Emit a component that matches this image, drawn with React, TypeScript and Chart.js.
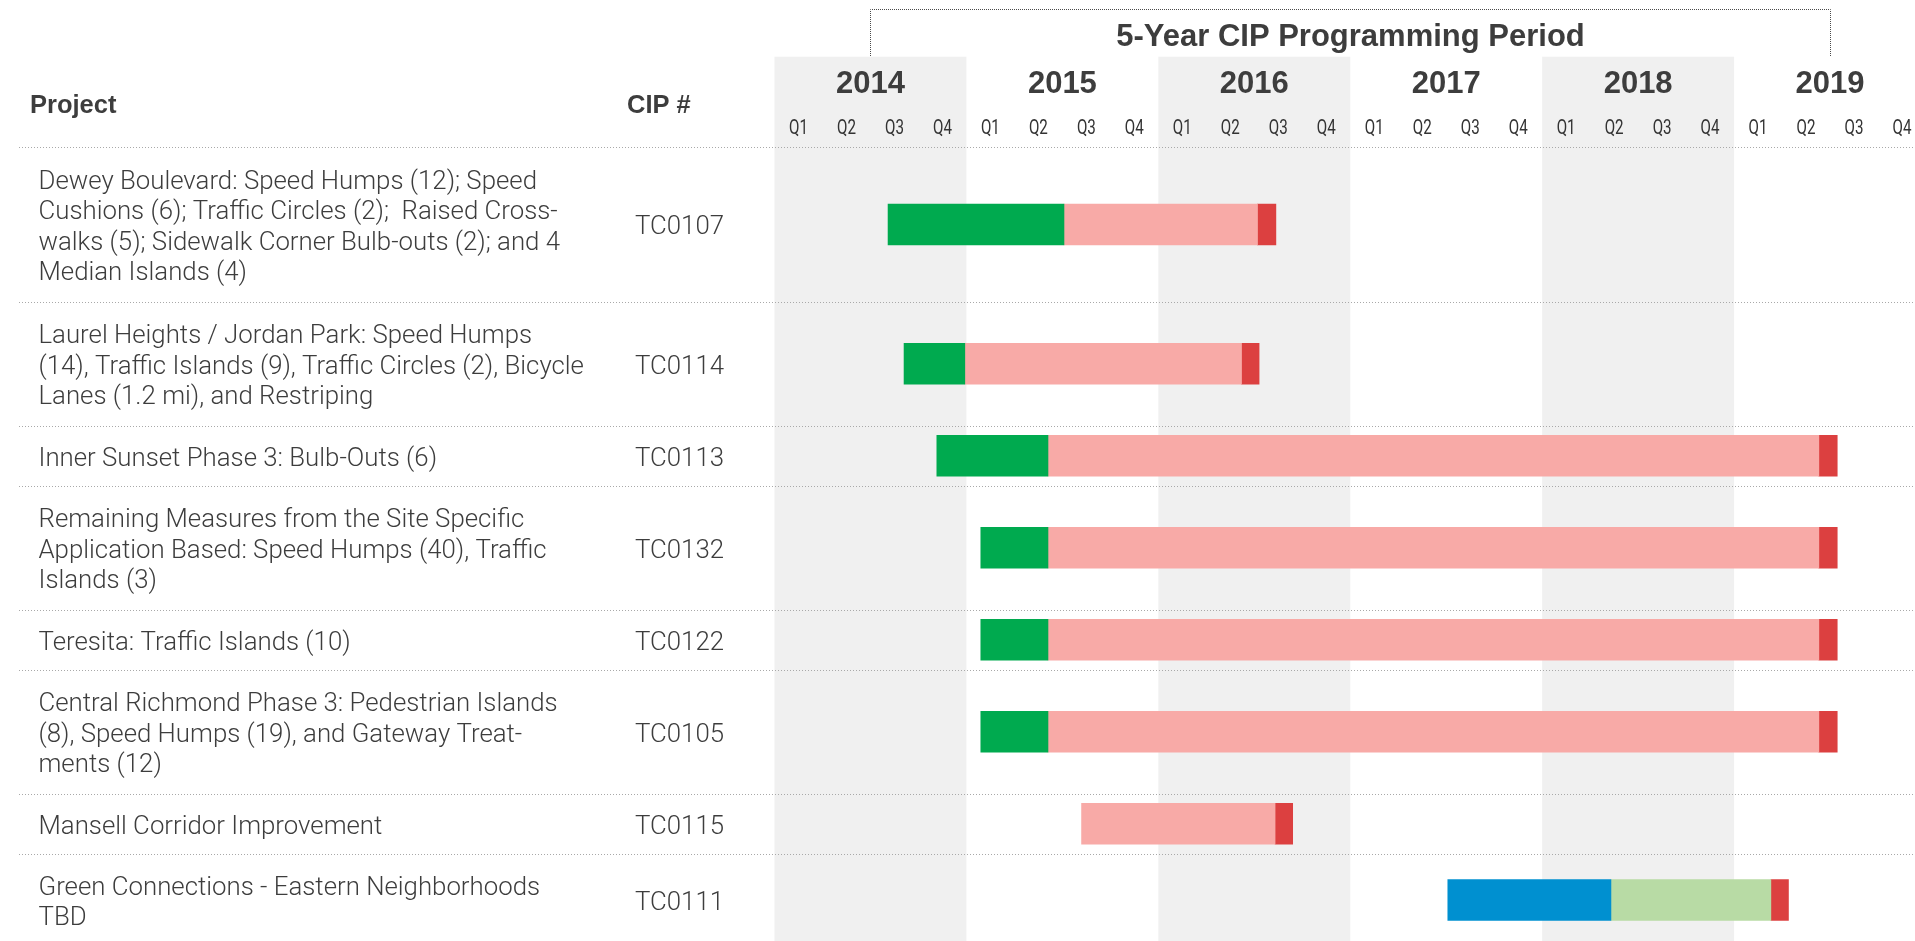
import React, { useEffect, useRef } from 'react';
import { Chart, registerables } from 'chart.js';

Chart.register(...registerables);

// ---------- data ----------
const years = ['2014', '2015', '2016', '2017', '2018', '2019'];
const quarters = ['Q1', 'Q2', 'Q3', 'Q4'];
const periodTitle = '5-Year CIP Programming Period';
// months counted from January 2014
const programmingPeriod = [6, 66];

const headerProject = 'Project';
const headerCip = 'CIP #';

const projects: string[][] = [
  [
    'Dewey Boulevard: Speed Humps (12); Speed',
    'Cushions (6); Traffic Circles (2);  Raised Cross-',
    'walks (5); Sidewalk Corner Bulb-outs (2); and 4',
    'Median Islands (4)',
  ],
  [
    'Laurel Heights / Jordan Park: Speed Humps',
    '(14), Traffic Islands (9), Traffic Circles (2), Bicycle',
    'Lanes (1.2 mi), and Restriping',
  ],
  ['Inner Sunset Phase 3: Bulb-Outs (6)'],
  [
    'Remaining Measures from the Site Specific',
    'Application Based: Speed Humps (40), Traffic',
    'Islands (3)',
  ],
  ['Teresita: Traffic Islands (10)'],
  [
    'Central Richmond Phase 3: Pedestrian Islands',
    '(8), Speed Humps (19), and Gateway Treat-',
    'ments (12)',
  ],
  ['Mansell Corridor Improvement'],
  ['Green Connections - Eastern Neighborhoods', 'TBD'],
];

const cipNumbers = ['TC0107', 'TC0114', 'TC0113', 'TC0132', 'TC0122', 'TC0105', 'TC0115', 'TC0111'];

type Span = [number, number] | null;
// phase spans in months from January 2014
const greenPhase: Span[] = [[7.1, 18.1], [8.1, 11.9], [10.15, 17.1], [12.9, 17.1], [12.9, 17.1], [12.9, 17.1], null, null];
const pinkPhase: Span[] = [[18.1, 30.2], [11.9, 29.2], [17.1, 65.3], [17.1, 65.3], [17.1, 65.3], [17.1, 65.3], [19.2, 31.3], null];
const redPhase: Span[] = [[30.2, 31.35], [29.2, 30.3], [65.3, 66.45], [65.3, 66.45], [65.3, 66.45], [65.3, 66.45], [31.3, 32.4], [62.3, 63.4]];
const bluePhase: Span[] = [null, null, null, null, null, null, null, [42.1, 52.3]];
const lightGreenPhase: Span[] = [null, null, null, null, null, null, null, [52.3, 62.3]];

// ---------- layout / style ----------
const CANVAS_W = 1926;
const CANVAS_H = 946;
const PLOT_LEFT = 774.5;
const PLOT_TOP = 147;
const ROW_PAD = 0.92;
const SHADE_TOP = 56.7;
const TEXT_COLOR = '#3d3d3d';
const BODY_FONT = '300 25.8px Roboto, "Liberation Sans", sans-serif';
const BOLD_FONT = (px: number) => `bold ${px}px "Liberation Sans", Arial, sans-serif`;
const LINE_PITCH = 30.5;

export default function App() {
  const ref = useRef<HTMLCanvasElement>(null);

  useEffect(() => {
    const canvas = ref.current;
    if (!canvas) return;

    const spans = projects.map((p) => p.length + ROW_PAD);
    const bounds: number[] = [0];
    spans.forEach((s) => bounds.push(bounds[bounds.length - 1] + s));
    const centers = spans.map((s, i) => bounds[i] + s / 2);
    const total = bounds[bounds.length - 1];

    const mk = (label: string, arr: Span[], color: string) => ({
      label,
      backgroundColor: color,
      borderWidth: 0,
      grouped: false,
      barThickness: 41,
      data: arr
        .map((r, i) => (r ? { x: r, y: centers[i] } : null))
        .filter((d) => d !== null),
    });

    const decor = {
      id: 'decor',
      beforeDraw(chart: any) {
        const ctx = chart.ctx as CanvasRenderingContext2D;
        const xs = chart.scales.x;
        const ys = chart.scales.y;
        const W = chart.width;
        const H = chart.height;
        ctx.save();
        ctx.fillStyle = '#ffffff';
        ctx.fillRect(0, 0, W, H);
        // shaded years
        ctx.fillStyle = '#f0f0f0';
        years.forEach((_, i) => {
          if (i % 2 === 0) {
            const x0 = xs.getPixelForValue(i * 12);
            const x1 = xs.getPixelForValue((i + 1) * 12);
            ctx.fillRect(x0, SHADE_TOP, x1 - x0, H - SHADE_TOP);
          }
        });
        // row separators
        ctx.strokeStyle = '#a9a9a9';
        ctx.lineWidth = 1;
        ctx.setLineDash([1, 2]);
        bounds.slice(0, -1).forEach((b) => {
          const y = Math.round(ys.getPixelForValue(b)) + 0.5;
          ctx.beginPath();
          ctx.moveTo(19, y);
          ctx.lineTo(W, y);
          ctx.stroke();
        });
        // programming period bracket
        const px0 = Math.round(xs.getPixelForValue(programmingPeriod[0])) + 0.5;
        const px1 = Math.round(xs.getPixelForValue(programmingPeriod[1])) + 0.5;
        ctx.strokeStyle = '#4a4a4a';
        ctx.setLineDash([1, 1]);
        ctx.beginPath();
        ctx.moveTo(px0, 56);
        ctx.lineTo(px0, 9.5);
        ctx.lineTo(px1, 9.5);
        ctx.lineTo(px1, 56);
        ctx.stroke();
        ctx.setLineDash([]);

        // header texts
        ctx.fillStyle = TEXT_COLOR;
        ctx.textBaseline = 'alphabetic';
        ctx.textAlign = 'center';
        ctx.font = BOLD_FONT(31);
        ctx.fillText(periodTitle, (px0 + px1) / 2, 46);
        years.forEach((yr, i) => {
          ctx.font = BOLD_FONT(31);
          ctx.fillText(yr, xs.getPixelForValue(i * 12 + 6), 92.7);
          quarters.forEach((q, j) => {
            const cx = xs.getPixelForValue(i * 12 + j * 3 + 1.5);
            ctx.save();
            ctx.translate(cx, 134);
            ctx.scale(0.74, 1);
            ctx.font = '400 20.5px Roboto, "Liberation Sans", sans-serif';
            ctx.fillStyle = '#333333';
            ctx.fillText(q, 0, 0);
            ctx.restore();
          });
        });
        ctx.textAlign = 'left';
        ctx.font = BOLD_FONT(25.5);
        ctx.fillText(headerProject, 30, 113.3);
        ctx.fillText(headerCip, 627, 113.3);

        // project labels
        ctx.font = BODY_FONT;
        projects.forEach((lines, i) => {
          const cy = ys.getPixelForValue(centers[i]);
          const n = lines.length;
          lines.forEach((ln, k) => {
            const y = cy + (k - (n - 1) / 2) * LINE_PITCH + 9.8;
            ctx.fillText(ln, 38.5, y);
          });
          ctx.fillText(cipNumbers[i], 635, cy + 9.8);
        });
        ctx.restore();
      },
    };

    const chart = new Chart(canvas, {
      type: 'bar',
      data: {
        datasets: [
          mk('Planning', bluePhase, '#0090d0'),
          mk('Design', lightGreenPhase, '#b8dba5'),
          mk('Design / Environmental', greenPhase, '#00aa4f'),
          mk('Construction', pinkPhase, '#f8aaa7'),
          mk('Close-out', redPhase, '#dc4040'),
        ] as any,
      },
      options: {
        indexAxis: 'y',
        responsive: false,
        animation: false,
        devicePixelRatio: 1,
        layout: { padding: { left: PLOT_LEFT, top: PLOT_TOP, right: 0, bottom: 0 } },
        scales: {
          x: { type: 'linear', min: 0, max: 72, display: false, offset: false },
          y: { type: 'linear', min: 0, max: total, reverse: true, display: false, offset: false },
        },
        plugins: {
          legend: { display: false },
          tooltip: { enabled: false },
        },
      } as any,
      plugins: [decor],
    });

    return () => chart.destroy();
  }, []);

  return (
    <div
      style={{
        position: 'fixed',
        left: 0,
        top: 0,
        width: 1915,
        height: 941,
        overflow: 'hidden',
        background: '#fff',
      }}
    >
      <canvas ref={ref} width={CANVAS_W} height={CANVAS_H} style={{ display: 'block' }} />
    </div>
  );
}
